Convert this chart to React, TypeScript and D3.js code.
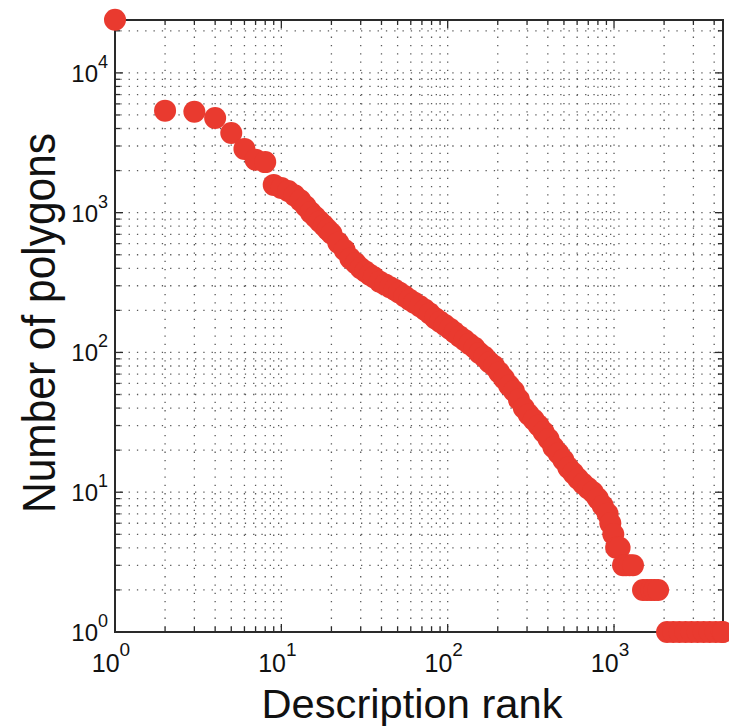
import React from "react";
import * as d3 from "d3";

// description rank vs number of polygons
const ranks = [
  1, 2, 3, 4, 5, 6, 7, 8, 9, 10,
  11, 12, 13, 14, 15, 16, 17, 18, 19, 20, 22, 24, 26, 28, 30, 32, 34, 36, 39,
  42, 45, 48, 51, 55, 59, 63, 68, 73, 78, 84, 90, 96, 103, 110, 118, 126, 135,
  145, 155, 166, 178, 190, 204, 218, 234, 250, 268, 287, 307, 329, 352, 377,
  404, 432, 463, 496, 531, 568, 608, 651, 697, 746, 799, 855, 915, 950, 990,
  1030, 1080,
  1133, 1180, 1240, 1300,
  1494, 1580, 1670, 1750, 1840,
  2084, 2270, 2470, 2690, 2920, 3180, 3460, 3760, 4090, 4450, 4520,
];
const polygons = [
  24000, 5370, 5280, 4760, 3720, 2860, 2390, 2300, 1580, 1500,
  1430, 1330, 1225, 1110, 1005, 930, 865, 810, 755, 710, 610, 540, 470, 435,
  400, 380, 360, 345, 320,
  306, 293, 281, 269, 253, 238, 227, 214, 202, 190, 176, 166, 157, 148, 139,
  130, 123, 115,
  108, 99, 93, 85, 80, 72, 65, 58, 53, 46, 40, 36, 33, 30, 27,
  24, 21, 19, 17, 15, 13.7, 12.5, 11.5, 10.7, 10, 9, 8, 7, 6, 5,
  4, 4,
  3, 3, 3, 3,
  2, 2, 2, 2, 2,
  1, 1, 1, 1, 1, 1, 1, 1, 1, 1, 1,
];
const xTickExps = [0, 1, 2, 3];
const yTickExps = [0, 1, 2, 3, 4];
const xTitle = "Description rank";
const yTitle = "Number of polygons";

export default function App() {
  const width = 729;
  const height = 726;
  const left = 115, right = 723, top = 20, bottom = 632;

  const x = d3.scaleLog().domain([1, 4520]).range([left, right]);
  const y = d3.scaleLog().domain([1, 23900]).range([bottom, top]);

  const xGrid = x.ticks();
  const yGrid = y.ticks();
  const isMajor = (v: number) => Math.abs(Math.log10(v) - Math.round(Math.log10(v))) < 1e-9;

  const red = "#E93A2F";
  const axisColor = "#2a2a2a";
  const font = "'Liberation Sans', Arial, Helvetica, sans-serif";

  return (
    <svg width={width} height={height} style={{ position: "absolute", left: 0, top: 0, background: "#fff" }}>
      {/* dotted grid */}
      <g stroke="#222" strokeWidth={1.3} strokeDasharray="1.3,7" opacity={0.75}>
        {xGrid.map((t, i) => (
          <line key={"gx" + i} x1={x(t)} x2={x(t)} y1={top} y2={bottom} />
        ))}
        {yGrid.map((t, i) => (
          <line key={"gy" + i} x1={left} x2={right} y1={y(t)} y2={y(t)} strokeDashoffset={3} />
        ))}
      </g>

      {/* box */}
      <rect x={left} y={top} width={right - left} height={bottom - top} fill="none" stroke={axisColor} strokeWidth={2} />

      {/* inward ticks on all four sides */}
      <g stroke={axisColor} strokeWidth={1.3}>
        {xGrid.map((t, i) => {
          const len = isMajor(t) ? 8 : 5;
          return (
            <g key={"tx" + i}>
              <line x1={x(t)} x2={x(t)} y1={bottom} y2={bottom - len} />
              <line x1={x(t)} x2={x(t)} y1={top} y2={top + len} />
            </g>
          );
        })}
        {yGrid.map((t, i) => {
          const len = isMajor(t) ? 8 : 5;
          return (
            <g key={"ty" + i}>
              <line x1={left} x2={left + len} y1={y(t)} y2={y(t)} />
              <line x1={right} x2={right - len} y1={y(t)} y2={y(t)} />
            </g>
          );
        })}
      </g>

      {/* data */}
      <g fill={red}>
        {ranks.map((r, i) => (
          <circle key={"d" + i} cx={x(r)} cy={y(polygons[i])} r={11} />
        ))}
      </g>

      {/* tick labels */}
      <g fontFamily={font} fill="#111">
        {xTickExps.map((e) => (
          <text key={"xl" + e} x={x(Math.pow(10, e)) - 4} y={672} textAnchor="middle" fontSize={25}>
            10
            <tspan dy={-16} fontSize={19}>{e}</tspan>
          </text>
        ))}
        {yTickExps.map((e) => (
          <text key={"yl" + e} x={108} y={y(Math.pow(10, e)) + 9} textAnchor="end" fontSize={24}>
            10
            <tspan dy={-14} fontSize={18}>{e}</tspan>
          </text>
        ))}
      </g>

      {/* titles */}
      <text
        x={412}
        y={718}
        textAnchor="middle"
        fontFamily={font}
        fontSize={41}
        fill="#111"
        textLength={301}
        lengthAdjust="spacingAndGlyphs"
      >
        {xTitle}
      </text>
      <text
        transform={`translate(55, 323) rotate(-90)`}
        textAnchor="middle"
        fontFamily={font}
        fontSize={46}
        fill="#111"
        textLength={380}
        lengthAdjust="spacingAndGlyphs"
      >
        {yTitle}
      </text>
    </svg>
  );
}
